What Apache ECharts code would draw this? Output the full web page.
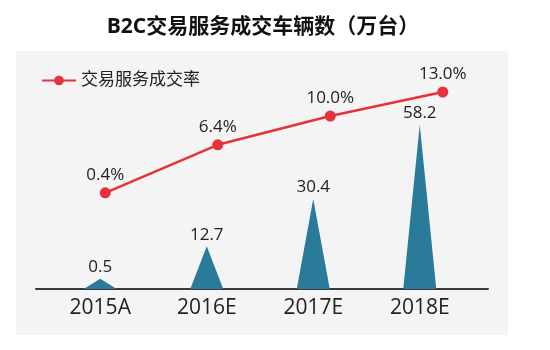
<!DOCTYPE html>
<html>
<head>
<meta charset="utf-8">
<script src="https://cdn.jsdelivr.net/npm/echarts@6/dist/echarts.min.js"></script>
<style>html,body{margin:0;padding:0;background:#fff;}#c{width:550px;height:350px;}</style>
</head>
<body>
<div id="c"></div>
<script>
const categories = ['2015A', '2016E', '2017E', '2018E'];
const volumes = [0.5, 12.7, 30.4, 58.2];
const rates = [0.4, 6.4, 10.0, 13.0];
const titleText = 'B2C交易服务成交车辆数（万台）';
const rateName = '交易服务成交率';

const FONT = '"Open Sans", "Noto Sans CJK SC", sans-serif';
const chart = echarts.init(document.getElementById('c'), null, {renderer: 'canvas'});
chart.setOption({
  backgroundColor: '#ffffff',
  animation: false,
  title: {
    text: titleText,
    left: 258, top: 12, textAlign: 'center',
    textStyle: {fontFamily: FONT, fontSize: 21, fontWeight: 'bold', color: '#111'}
  },
  graphic: [{
    type: 'rect', z: -10, silent: true,
    shape: {x: 16, y: 51, width: 492, height: 284},
    style: {fill: '#f4f4f4'}
  }],
  legend: {
    left: 36, top: 67,
    itemWidth: 34, itemHeight: 12, itemGap: 10,
    textStyle: {fontFamily: FONT, fontSize: 17, color: '#222'},
    data: [rateName]
  },
  grid: [
    {left: 47, right: 77, top: 120, bottom: 61},
    {left: 49, right: 51, top: 76, bottom: 154},
    {left: 36, right: 62, top: 120, bottom: 61}
  ],
  xAxis: [
    {type: 'category', gridIndex: 0, data: categories,
     axisLine: {show: false}, axisTick: {show: false},
     axisLabel: {margin: 9, fontFamily: FONT, fontSize: 21, color: '#222'}},
    {type: 'category', gridIndex: 1, data: categories, show: false},
    {type: 'value', gridIndex: 2, min: 0, max: 1,
     axisLine: {show: true, lineStyle: {color: '#3a3a3a', width: 2}},
     axisTick: {show: false}, axisLabel: {show: false}, splitLine: {show: false}}
  ],
  yAxis: [
    {type: 'value', gridIndex: 0, min: -3.3, max: 60, startValue: -3.3, show: false, splitLine: {show: false}},
    {type: 'value', gridIndex: 1, min: 0, max: 15, show: false, splitLine: {show: false}},
    {type: 'value', gridIndex: 2, min: 0, max: 1, show: false, splitLine: {show: false}}
  ],
  series: [
    {
      type: 'pictorialBar', xAxisIndex: 0, yAxisIndex: 0,
      symbol: 'triangle', symbolSize: [33, '100%'],
      itemStyle: {color: '#2a7a99'},
      label: {show: true, position: 'top', distance: 3,
              fontFamily: FONT, fontSize: 17, color: '#222'},
      data: volumes
    },
    {
      name: rateName, type: 'line', xAxisIndex: 1, yAxisIndex: 1,
      symbol: 'circle', symbolSize: 11,
      lineStyle: {color: '#e5323b', width: 2.5},
      itemStyle: {color: '#e5323b'},
      label: {show: true, position: 'top', distance: 4,
              fontFamily: FONT, fontSize: 17, color: '#222',
              formatter: p => p.value.toFixed(1) + '%'},
      data: rates
    }
  ]
});
</script>
</body>
</html>
